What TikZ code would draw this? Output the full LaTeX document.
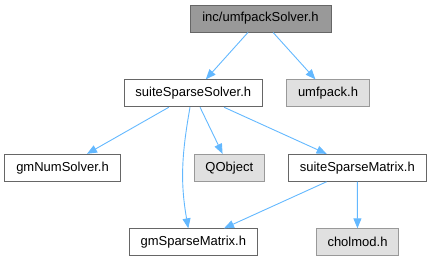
\documentclass[tikz,border=0pt]{standalone}
\usepackage{fontspec}
\setmainfont{Liberation Sans}
\usetikzlibrary{arrows.meta}
\definecolor{edgeblue}{HTML}{63B8FF}
\definecolor{darkfill}{HTML}{999999}
\definecolor{greyfill}{HTML}{E0E0E0}
\tikzset{
  box/.style={draw=black!60, fill=white, line width=0.9pt, inner sep=0pt, minimum height=27pt, font=\fontsize{13}{15}\selectfont, text=black},
  mainbox/.style={box, fill=darkfill, draw=black!60},
  extbox/.style={box, fill=greyfill, draw=darkfill},
  dep/.style={draw=edgeblue, line width=0.9pt, -{Triangle[length=10pt,width=8pt]}}
}
\begin{document}
\begin{tikzpicture}[x=1pt,y=-1pt]
\useasboundingbox (0,0) rectangle (432,261);
\node[mainbox, minimum width=141pt] (top) at (260.5,18.5) {inc/umfpackSolver.h};
\node[box, minimum width=138.7pt] (sss) at (193.3,93.3) {suiteSparseSolver.h};
\node[extbox, minimum width=82.7pt] (umf) at (328,93.3) {umfpack.h};
\node[box, minimum width=115.7pt] (gns) at (62.5,167.8) {gmNumSolver.h};
\node[extbox, minimum width=69.3pt] (qob) at (229.3,167.8) {QObject};
\node[box, minimum width=137.3pt] (ssm) at (357.3,167.8) {suiteSparseMatrix.h};
\node[box, minimum width=128pt] (gsm) at (193.3,242.3) {gmSparseMatrix.h};
\node[extbox, minimum width=81.7pt] (chm) at (357.5,242.3) {cholmod.h};
\draw[dep] (top) -- (sss);
\draw[dep] (top) -- (umf);
\draw[dep] (sss) -- (gns);
\draw[dep] ([xshift=-3.3pt]sss.south) to[out=-100,in=100] ([xshift=-5pt]gsm.north);
\draw[dep] (sss) -- (qob);
\draw[dep] (sss) -- (ssm);
\draw[dep] (ssm) -- (gsm);
\draw[dep] (ssm) -- (chm);
\end{tikzpicture}
\end{document}
